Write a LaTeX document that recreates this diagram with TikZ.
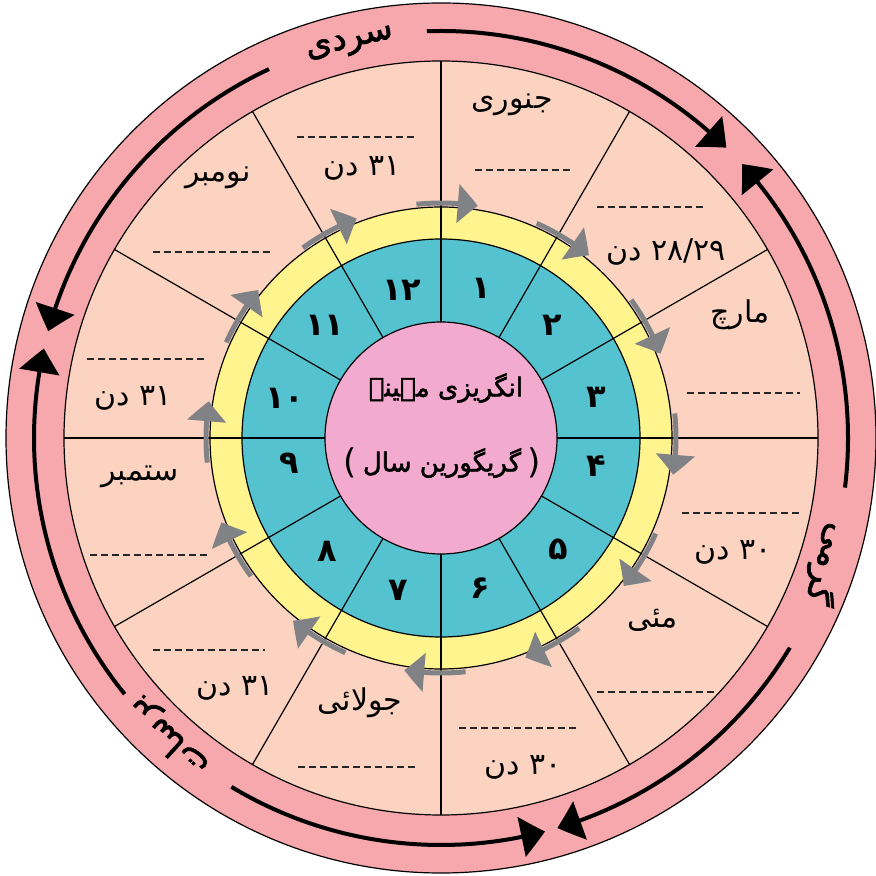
\documentclass[tikz,border=0pt]{standalone}
\usepackage{fontspec}
\usetikzlibrary{arrows.meta,bending}
\TeXXeTstate=1
\newfontfamily\ur[Script=Arabic]{DejaVu Sans}
\newfontfamily\urbold[Script=Arabic,FakeBold=2]{DejaVu Sans}
\newfontfamily\latn{DejaVu Sans}
\definecolor{outerpink}{RGB}{247,168,172}
\definecolor{peach}{RGB}{252,211,193}
\definecolor{ylw}{RGB}{255,244,142}
\definecolor{tealc}{RGB}{84,195,207}
\definecolor{cpink}{RGB}{242,170,206}
\definecolor{garrow}{RGB}{128,130,133}
\begin{document}
\begin{tikzpicture}[x=0.5pt,y=0.5pt,
  ringline/.style={draw=black,line width=0.6pt},
  spokeline/.style={draw=black,line width=0.6pt},
  blankline/.style={draw=black!85,line width=1pt,dash pattern=on 3.5pt off 2pt},
  monthtxt/.style={font=\ur\fontsize{15}{17}\selectfont,inner sep=0pt},
  numtxt/.style={font=\ur\bfseries\fontsize{16}{18}\selectfont,inner sep=0pt},
  titletxt/.style={font=\urbold\fontsize{13}{16}\selectfont,inner sep=0pt},
  parentxt/.style={font=\latn\fontsize{17}{19}\selectfont,inner sep=0pt},
  seasontxt/.style={font=\urbold\fontsize{17}{19}\selectfont,inner sep=0pt},
  grayarr/.style={draw=garrow,line width=2.5pt,-{Triangle[length=10pt,width=19pt,bend]}},
  blkarr/.style={draw=black,line width=2pt,-{Triangle[length=12pt,width=20pt,bend]}}
]
\useasboundingbox (-441,-438) rectangle (434,438);
% rings
\fill[outerpink,ringline] (0,0) circle[radius=435];
\fill[peach,ringline] (0,0) circle[radius=377];
\fill[ylw,ringline] (0,0) circle[radius=231];
\fill[tealc,ringline] (0,0) circle[radius=199];
% spokes
\foreach \a in {0,30,...,330} \draw[spokeline] (\a:116) -- (\a:377);
\fill[cpink,ringline] (0,0) circle[radius=116];
% gray month arrows
\foreach \k in {0,...,11} {
  \pgfmathsetmacro\t{81-30*\k}
  \pgfmathsetmacro\s{\t+15}
  \draw[grayarr] (\s:235) arc[start angle=\s, end angle=\t, radius=235];
}
% blanks
\draw[blankline] (34,268) -- (132,268);
\draw[blankline] (156,231) -- (265,231);
\draw[blankline] (246,45) -- (359,45);
\draw[blankline] (241,-75) -- (359,-75);
\draw[blankline] (156,-254) -- (274,-254);
\draw[blankline] (18,-290) -- (137,-290);
\draw[blankline] (-143,-329) -- (-23,-329);
\draw[blankline] (-288,-212) -- (-176,-212);
\draw[blankline] (-351,-117) -- (-233,-117);
\draw[blankline] (-354,79) -- (-234,79);
\draw[blankline] (-288,186) -- (-169,186);
\draw[blankline] (-144,301) -- (-26,301);
% months and days
\node[monthtxt] (jan) at (71,333) {\beginR جنوری\endR};
\node[monthtxt] (feb) at (225,186) {\beginR ۲۸/۲۹ دن\endR};
\node[monthtxt] (mar) at (299,123) {\beginR مارچ\endR};
\node[monthtxt] (apr) at (292,-114) {\beginR ۳۰ دن\endR};
\node[monthtxt] (may) at (212,-182) {\beginR مئی\endR};
\node[monthtxt] (jun) at (82,-329) {\beginR ۳۰ دن\endR};
\node[monthtxt] (jul) at (-81,-265) {\beginR جولائی\endR};
\node[monthtxt] (aug) at (-206,-250) {\beginR ۳۱ دن\endR};
\node[monthtxt] (sep) at (-301,-39) {\beginR ستمبر\endR};
\node[monthtxt] (oct) at (-308,40) {\beginR ۳۱ دن\endR};
\node[monthtxt] (nov) at (-223,260) {\beginR نومبر\endR};
\node[monthtxt] (dec) at (-79,270) {\beginR ۳۱ دن\endR};
% numbers
\node[numtxt] (n1) at (40,150) {۱};
\node[numtxt] (n2) at (111,113) {۲};
\node[numtxt] (n3) at (155,41) {۳};
\node[numtxt] (n4) at (155,-28) {۴};
\node[numtxt] (n5) at (117,-111) {۵};
\node[numtxt] (n6) at (39,-150) {۶};
\node[numtxt] (n7) at (-43,-152) {۷};
\node[numtxt] (n8) at (-114,-113) {۸};
\node[numtxt] (n9) at (-152,-25) {۹};
\node[numtxt] (n10) at (-156,40) {۱۰};
\node[numtxt] (n11) at (-116,113) {۱۱};
\node[numtxt] (n12) at (-39,148) {۱۲};
% centre title
\node[titletxt] (t1) at (5,50) {\beginR انگریزی مہینے\endR};
\node[titletxt] (t2) at (1,-25) {\beginR گریگورین سال\endR};
\node[parentxt,anchor=east] (pl) at (t2.west) {(\,};
\node[parentxt,anchor=west] (pr) at (t2.east) {\,)};
% seasons
\node[seasontxt,rotate=13] (winter) at (103:404) {\beginR سردی\endR};
\node[seasontxt,rotate=-108] (summer) at (-18:407) {\beginR گرمی\endR};
\node[seasontxt,rotate=137.6] (rain) at (227.6:404) {\beginR برسات\endR};
% season arrows
\draw[blkarr] (92:407) arc[start angle=92, end angle=45.5, radius=407];
\draw[blkarr] (115:407) arc[start angle=115, end angle=164.8, radius=407];
\draw[blkarr] (-7:407) arc[start angle=-7, end angle=42.3, radius=407];
\draw[blkarr] (-31:407) arc[start angle=-31, end angle=-73.4, radius=407];
\draw[blkarr] (239:407) arc[start angle=239, end angle=284.8, radius=407];
\draw[blkarr] (219:407) arc[start angle=219, end angle=167.3, radius=407];
\end{tikzpicture}
\end{document}
